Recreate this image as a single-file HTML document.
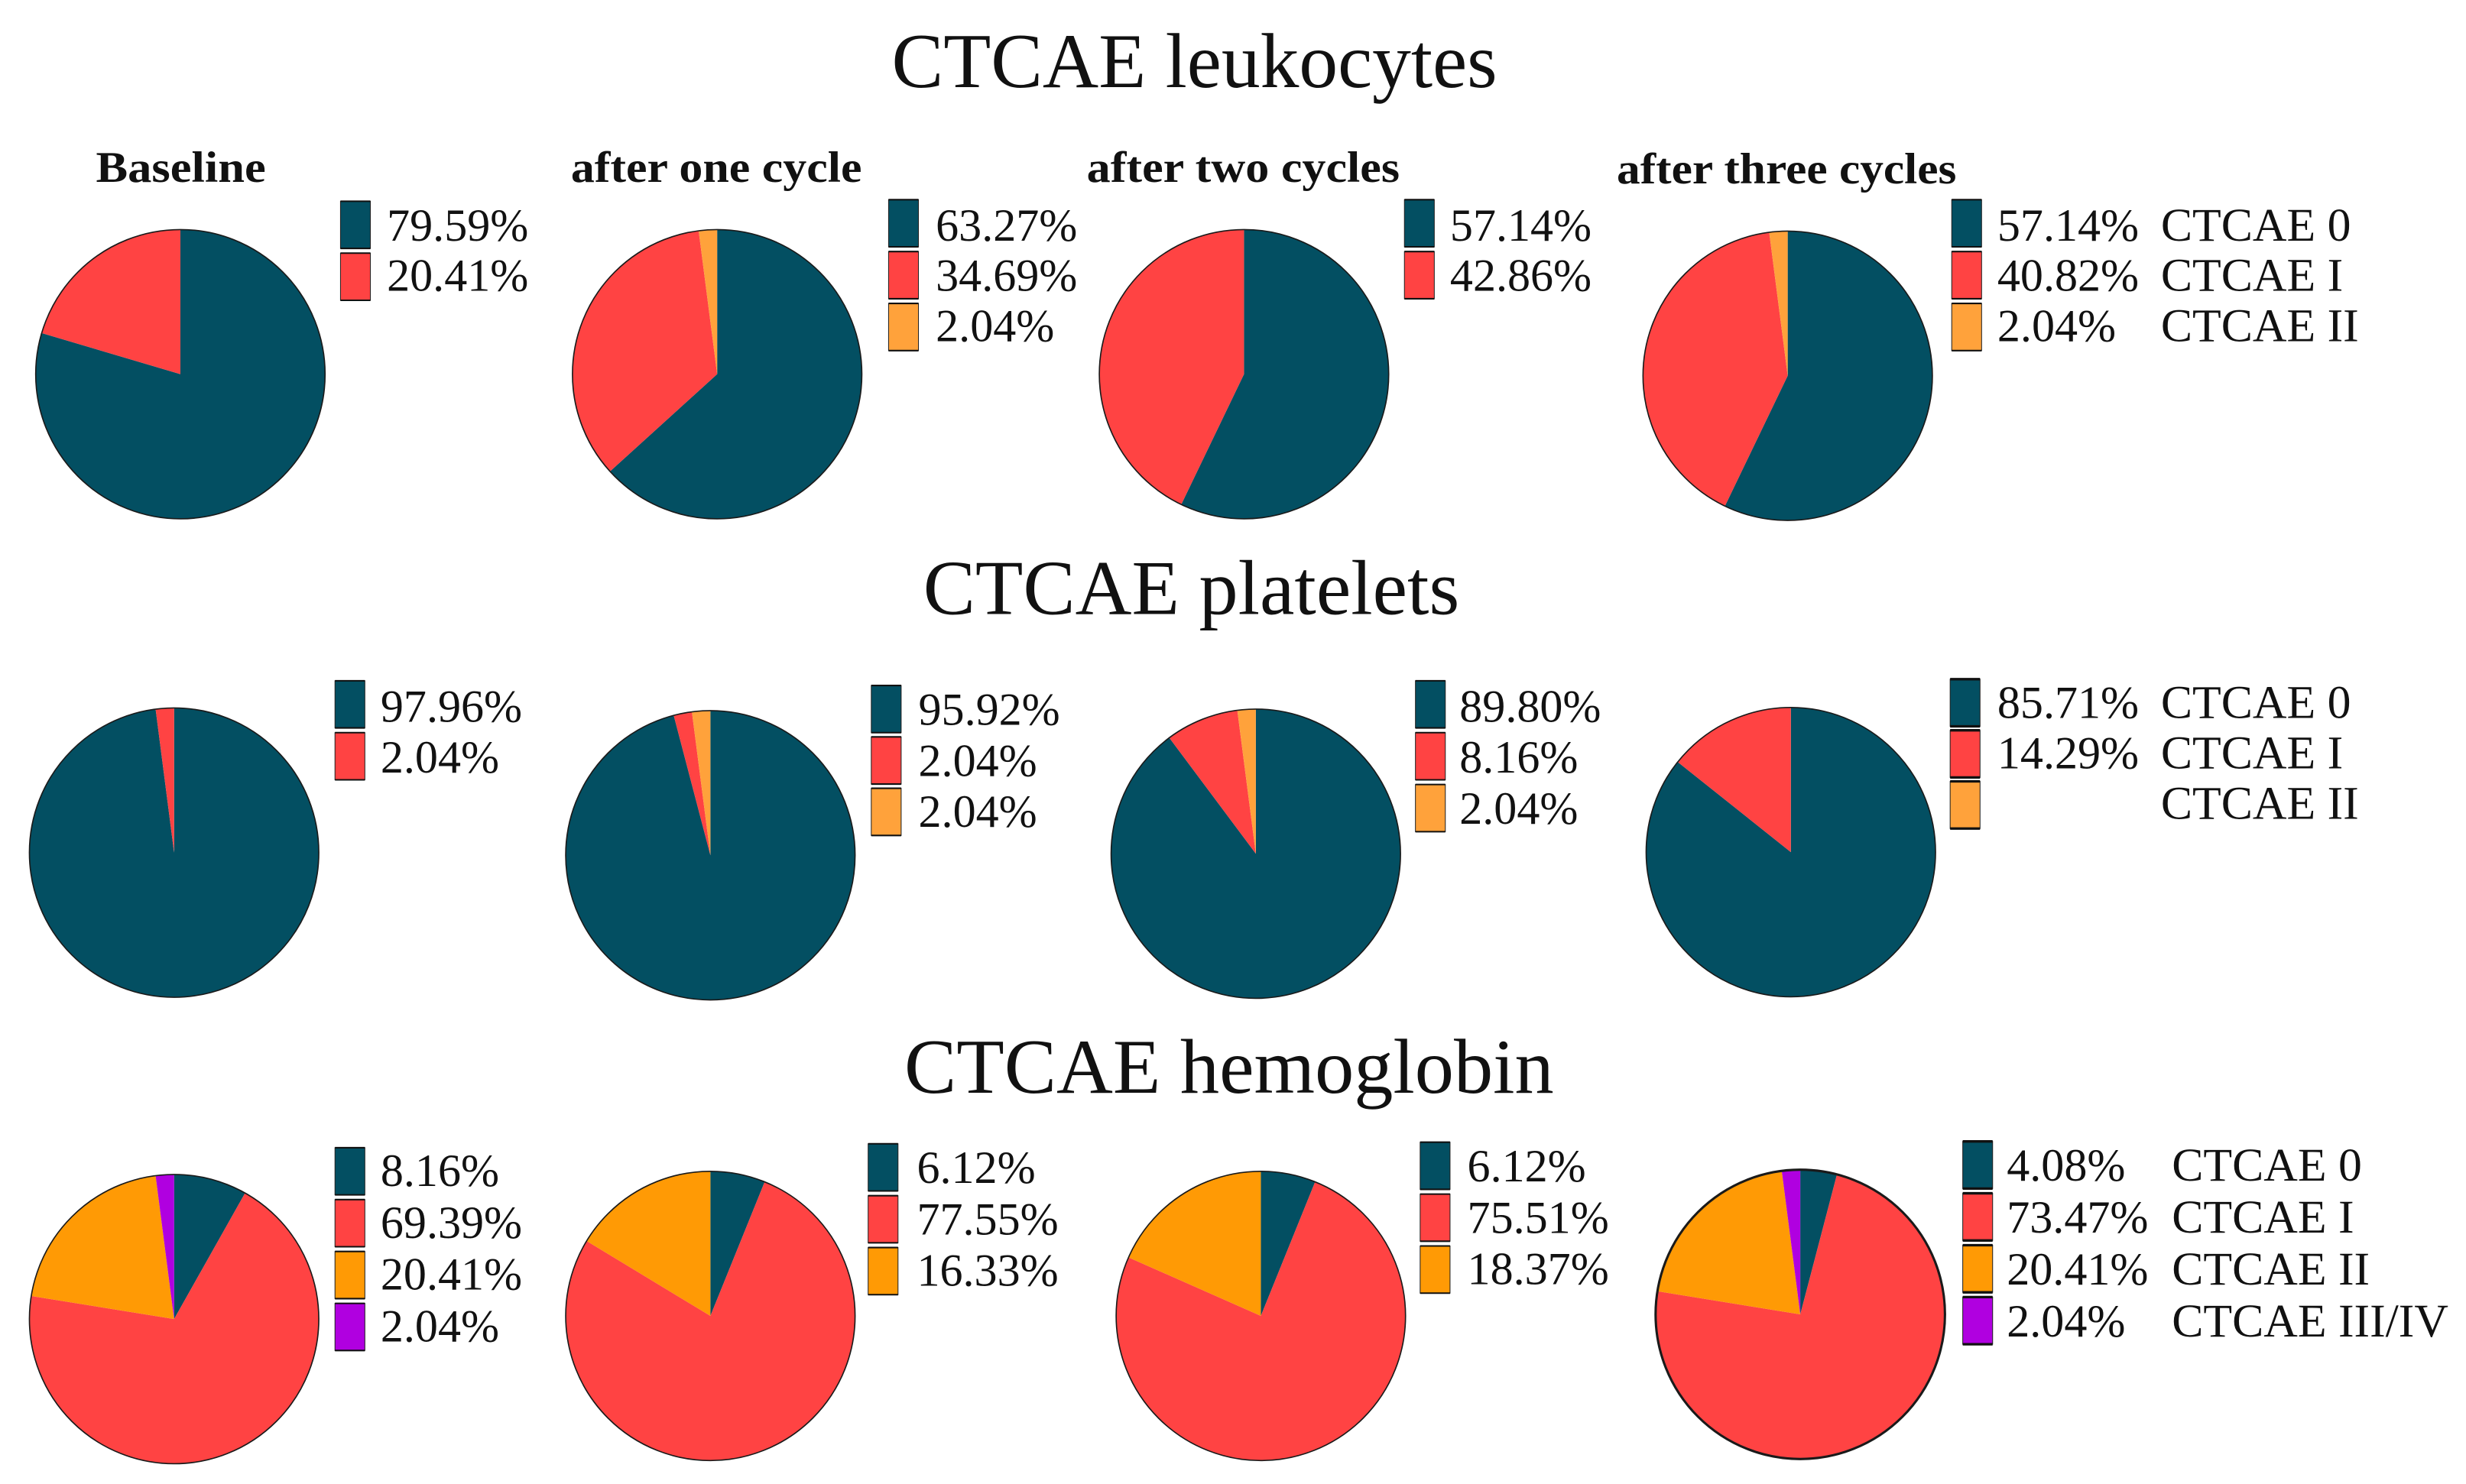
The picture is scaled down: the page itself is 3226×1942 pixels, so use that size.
<!DOCTYPE html>
<html lang="en">
<head>
<meta charset="utf-8">
<title>CTCAE pie charts</title>
<style>
html,body{margin:0;padding:0;background:#fff;width:3226px;height:1942px;overflow:hidden}
svg{display:block}
text{font-family:"Liberation Serif","DejaVu Serif",serif;fill:#111}
.heading{font-size:49.3px}
.sub{font-size:28px;font-weight:bold}
.val{font-size:29.2px}
.lab{font-size:30px}
</style>
</head>
<body>
<svg id="chart" xmlns="http://www.w3.org/2000/svg" width="3226" height="1942" viewBox="0 0 1568 943.9">
  <rect x="0" y="0" width="1568" height="943.9" fill="#ffffff"/>
  <text class="heading" x="567" y="55.5" textLength="385" lengthAdjust="spacingAndGlyphs">CTCAE leukocytes</text>
  <text class="heading" x="587" y="390.5" textLength="341" lengthAdjust="spacingAndGlyphs">CTCAE platelets</text>
  <text class="heading" x="575" y="695" textLength="413" lengthAdjust="spacingAndGlyphs">CTCAE hemoglobin</text>
  <text class="sub" x="61" y="115.7" textLength="108" lengthAdjust="spacingAndGlyphs">Baseline</text>
  <text class="sub" x="363" y="115.7" textLength="185" lengthAdjust="spacingAndGlyphs">after one cycle</text>
  <text class="sub" x="691" y="115.7" textLength="199" lengthAdjust="spacingAndGlyphs">after two cycles</text>
  <text class="sub" x="1028" y="116.7" textLength="216" lengthAdjust="spacingAndGlyphs">after three cycles</text>
</svg>
<script>
// Data: percentage of patients per CTCAE grade, in legend / clockwise slice order
const leukocytesBaseline = [79.59, 20.41];
const leukocytesCycle1 = [63.27, 34.69, 2.04];
const leukocytesCycle2 = [57.14, 42.86];
const leukocytesCycle3 = [57.14, 40.82, 2.04];
const plateletsBaseline = [97.96, 2.04];
const plateletsCycle1 = [95.92, 2.04, 2.04];
const plateletsCycle2 = [89.80, 8.16, 2.04];
const plateletsCycle3 = [85.71, 14.29, 0];
const hemoglobinBaseline = [8.16, 69.39, 20.41, 2.04];
const hemoglobinCycle1 = [6.12, 77.55, 16.33];
const hemoglobinCycle2 = [6.12, 75.51, 18.37];
const hemoglobinCycle3 = [4.08, 73.47, 20.41, 2.04];
const gradeLabels = ['CTCAE 0', 'CTCAE I', 'CTCAE II', 'CTCAE III/IV'];

// Styling
const softPalette = ['#034f62', '#ff4343', '#ffa23b', '#b000e0'];
const hemoPalette = ['#034f62', '#ff4343', '#ff9a05', '#b000e0'];
const RADIUS = 92;
const SWATCH_W = 19;
const SWATCH_H = 30;

// Layout: pie centre, legend origin and text columns for each panel
const panels = [
  {id:'leukocytes-baseline', values:leukocytesBaseline, palette:softPalette, cx:114.7, cy:238, lx:216.5, ly:128, step:33, tx:246, base:153, textStep:32},
  {id:'leukocytes-cycle-1', values:leukocytesCycle1, palette:softPalette, cx:456, cy:238, lx:565, ly:127, step:33, tx:595, base:153, textStep:32},
  {id:'leukocytes-cycle-2', values:leukocytesCycle2, palette:softPalette, cx:791, cy:238, lx:893, ly:127, step:33, tx:922, base:153, textStep:32},
  {id:'leukocytes-cycle-3', values:leukocytesCycle3, palette:softPalette, cx:1136.7, cy:239, lx:1241, ly:127, step:33, tx:1270, base:153, textStep:32, labelX:1374},
  {id:'platelets-baseline', values:plateletsBaseline, palette:softPalette, cx:110.7, cy:542.3, lx:213, ly:433, step:33, tx:242, base:459, textStep:32.3},
  {id:'platelets-cycle-1', values:plateletsCycle1, palette:softPalette, cx:451.7, cy:544, lx:554, ly:436, step:32.7, tx:584, base:461, textStep:32.5},
  {id:'platelets-cycle-2', values:plateletsCycle2, palette:softPalette, cx:798.5, cy:543, lx:900, ly:433, step:33, tx:928, base:459, textStep:32.5},
  {id:'platelets-cycle-3', values:plateletsCycle3, palette:softPalette, cx:1138.7, cy:542, lx:1240, ly:432, step:32.5, tx:1270, base:456.7, textStep:32, labelX:1374, legendHeavy:true},
  {id:'hemoglobin-baseline', values:hemoglobinBaseline, palette:hemoPalette, cx:110.7, cy:839, lx:213, ly:730, step:33, tx:242, base:754.3, textStep:33},
  {id:'hemoglobin-cycle-1', values:hemoglobinCycle1, palette:hemoPalette, cx:451.7, cy:837, lx:552, ly:727.5, step:33, tx:583, base:752.5, textStep:32.7},
  {id:'hemoglobin-cycle-2', values:hemoglobinCycle2, palette:hemoPalette, cx:801.7, cy:837, lx:903, ly:726.5, step:33, tx:933, base:751.5, textStep:32.7},
  {id:'hemoglobin-cycle-3', values:hemoglobinCycle3, palette:hemoPalette, cx:1144.7, cy:836, lx:1248, ly:726, step:33, tx:1276, base:751, textStep:33, labelX:1381, heavy:true, legendHeavy:true}
];

const NS = 'http://www.w3.org/2000/svg';
const svg = document.getElementById('chart');

function make(tag, attrs, parent) {
  const el = document.createElementNS(NS, tag);
  for (const k in attrs) el.setAttribute(k, attrs[k]);
  parent.appendChild(el);
  return el;
}
// Axis function: cumulative percent to clockwise angle from 12 o'clock
function angleOf(total, cum) { return cum / total * Math.PI * 2; }
function pointAt(cx, cy, r, a) { return [cx + r * Math.sin(a), cy - r * Math.cos(a)]; }
function slicePath(cx, cy, r, a0, a1) {
  const p0 = pointAt(cx, cy, r, a0);
  const p1 = pointAt(cx, cy, r, a1);
  const large = a1 - a0 > Math.PI ? 1 : 0;
  return 'M' + cx + ' ' + cy + 'L' + p0[0] + ' ' + p0[1] + 'A' + r + ' ' + r + ' 0 ' + large + ' 1 ' + p1[0] + ' ' + p1[1] + 'Z';
}

panels.forEach(function (panel) {
  const group = make('g', {}, svg);
  
  
  const total = panel.values.reduce(function (s, v) { return s + v; }, 0);
  let cum = 0;
  panel.values.forEach(function (v, i) {
    if (v > 0) {
      const a0 = angleOf(total, cum);
      const a1 = angleOf(total, cum + v);
      const slice = make('path', {d: slicePath(panel.cx, panel.cy, RADIUS, a0, a1), fill: panel.palette[i]}, group);
      
      
    }
    cum += v;
  });
  const outline = make('circle', {cx: panel.cx, cy: panel.cy, r: RADIUS, fill: 'none', stroke: '#1a1a1a', 'stroke-width': panel.heavy ? 1.5 : 0.8}, group);
  
  

  panel.values.forEach(function (v, i) {
    const y = panel.ly + i * panel.step;
    const swatch = make('rect', {x: panel.lx, y: y, width: SWATCH_W, height: SWATCH_H, fill: panel.palette[i], stroke: '#222', 'stroke-width': 0.5}, group);
    
    
    const lw = panel.legendHeavy ? 1.6 : 1;
    [y, y + SWATCH_H].forEach(function (ly) {
      const edge = make('line', {x1: panel.lx, x2: panel.lx + SWATCH_W, y1: ly, y2: ly, stroke: '#111', 'stroke-width': lw}, group);
      
      
    });
    const baseline = panel.base + i * panel.textStep;
    if (v > 0) {
      const pct = make('text', {x: panel.tx, y: baseline, class: 'val'}, group);
      
      
      pct.textContent = v.toFixed(2) + '%';
    }
    if (panel.labelX) {
      const lab = make('text', {x: panel.labelX, y: baseline, class: 'lab'}, group);
      
      
      lab.textContent = gradeLabels[i];
    }
  });
});
</script>
</body>
</html>
